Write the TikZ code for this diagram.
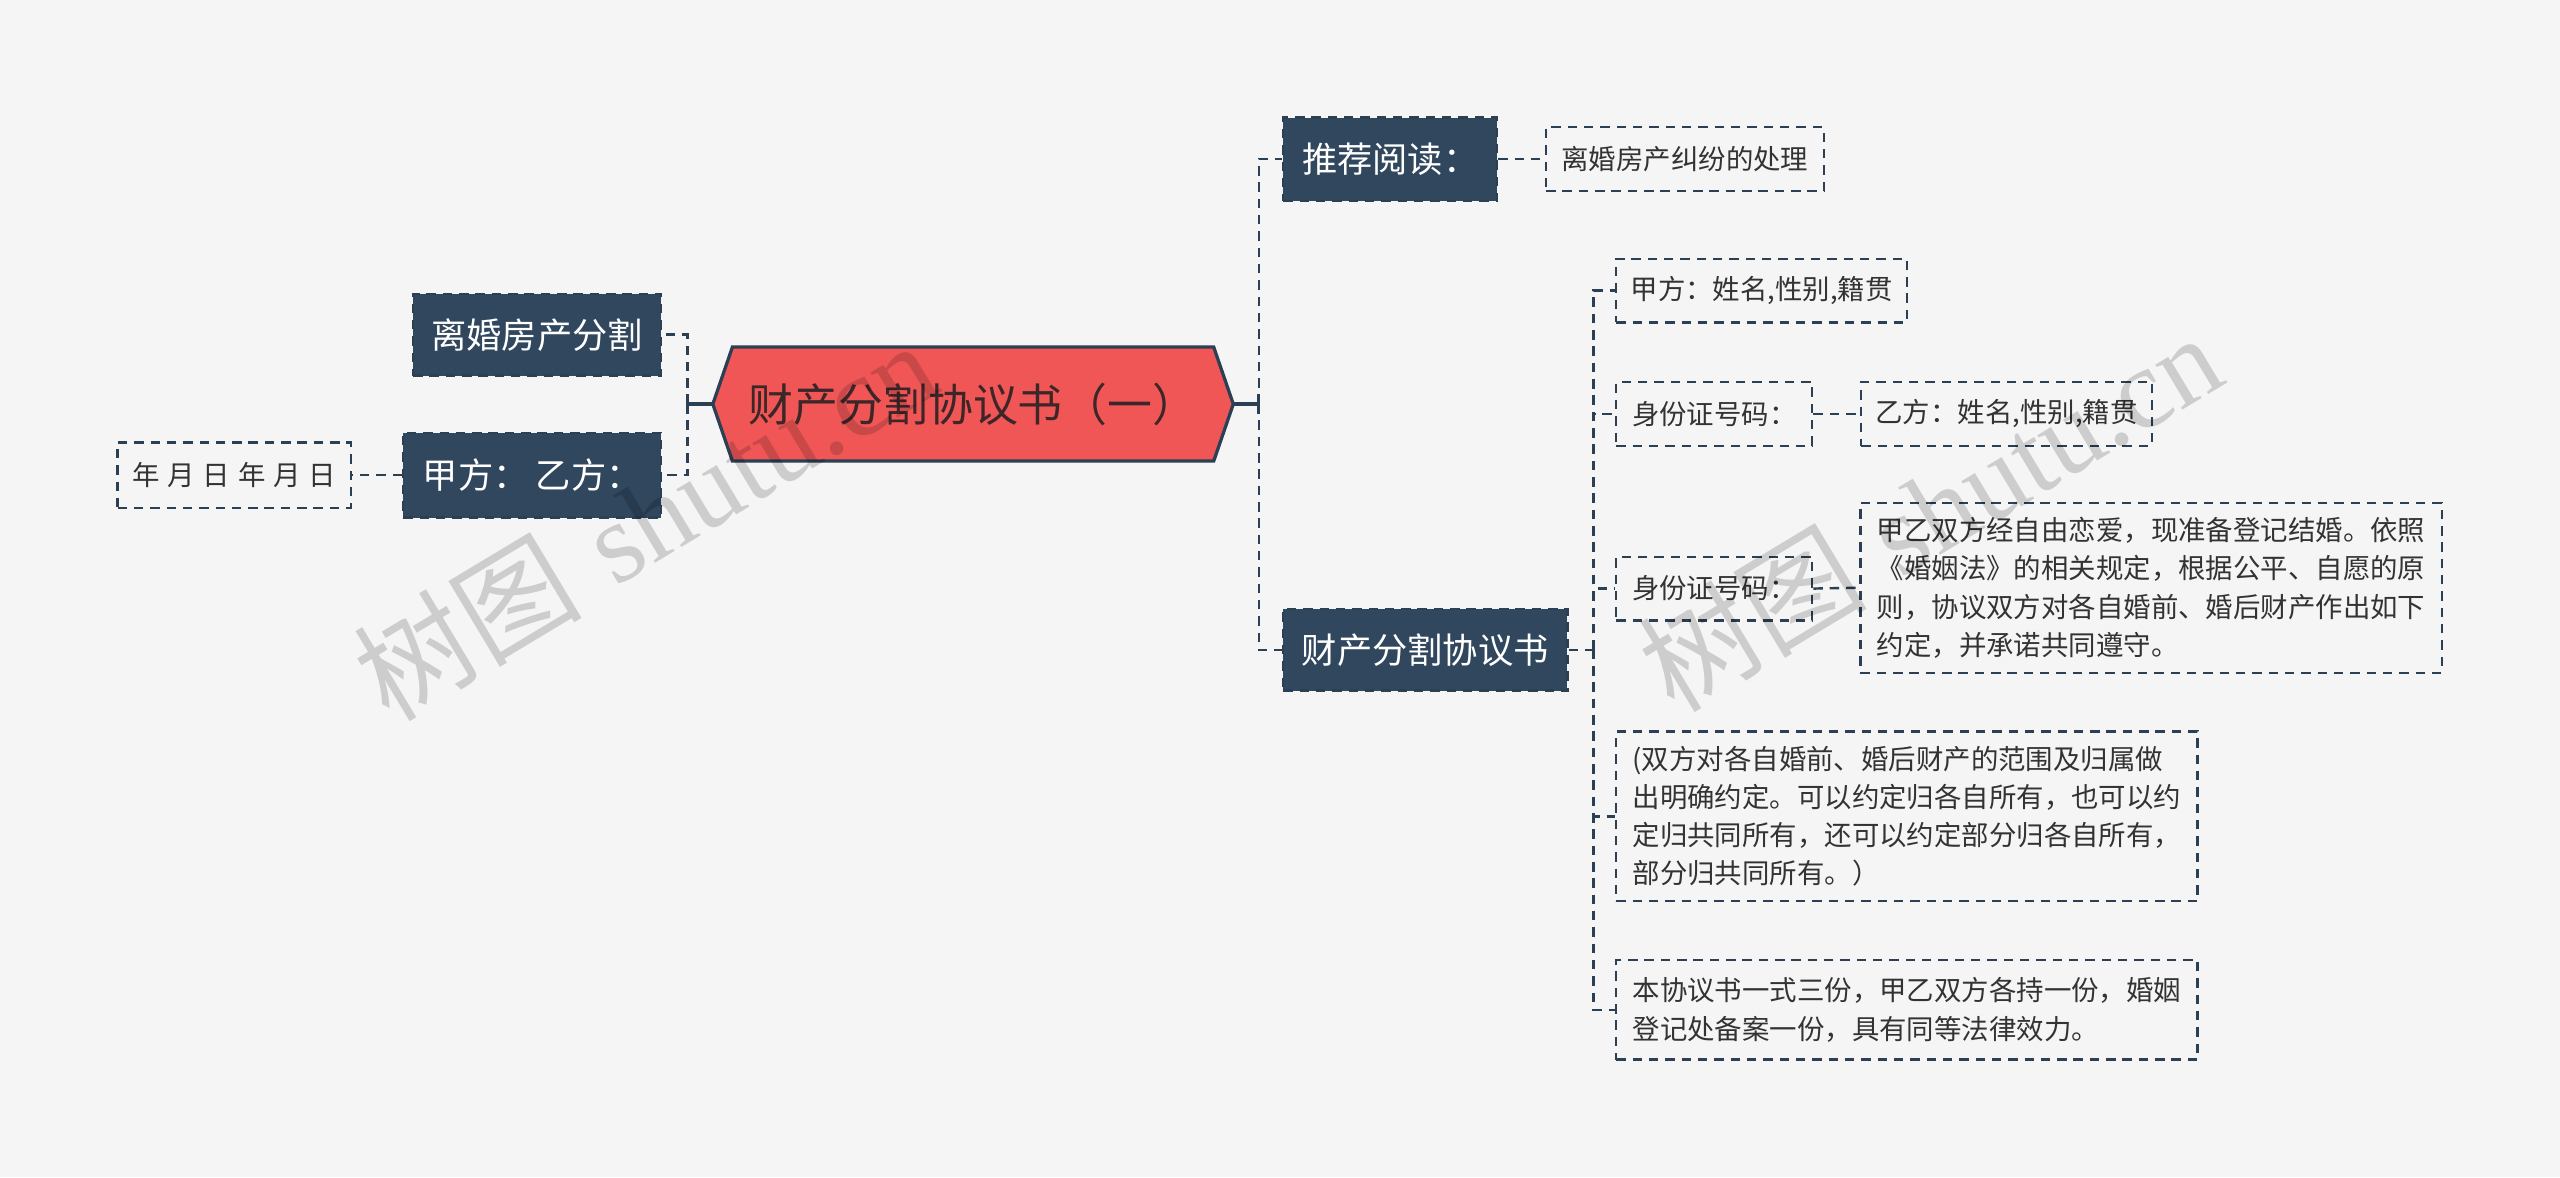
\documentclass[tikz,border=0pt]{standalone}
\usepackage{fontspec}
\setmainfont{Noto Sans CJK SC}
\newfontfamily\wmlatin{Liberation Serif}
\usetikzlibrary{backgrounds,calc}
\definecolor{bgc}{HTML}{F5F5F5}
\definecolor{nodeblue}{HTML}{30475E}
\definecolor{lineblue}{HTML}{2B3F55}
\definecolor{rootred}{HTML}{F05656}
\definecolor{roottext}{HTML}{3D2628}
\definecolor{txt}{HTML}{333333}
\tikzset{
  dashpat/.style={dash pattern=on 2.9pt off 2.1pt},
  darknode/.style={fill=nodeblue, draw=lineblue, dashpat, line width=0.7pt, text=white,
    font=\fontsize{10.8}{13}\selectfont, inner sep=0pt, minimum height=25pt},
  lightnode/.style={draw=lineblue, dashpat, line width=0.7pt, text=txt,
    font=\fontsize{8.4}{10}\selectfont, inner sep=0pt, minimum height=19.5pt},
  longnode/.style={draw=lineblue, dashpat, line width=0.7pt, text=txt, align=left,
    font=\fontsize{8.4}{11.7}\selectfont, inner sep=0pt},
  conn/.style={draw=lineblue, dashpat, line width=0.75pt},
  solidline/.style={draw=lineblue, line width=1pt},
  wm/.style={text=black, opacity=0.16, rotate=31, inner sep=0pt}
}
\begin{document}
\begin{tikzpicture}[x=0.5pt,y=-0.5pt]
\useasboundingbox (0,0) rectangle (1568,721);

% root
\node[minimum width=147pt, minimum height=34.5pt, inner sep=0pt, text=roottext,
  font=\fontsize{13.75}{16}\selectfont] (root) at (596,247.5) {财产分割协议书（一）\hspace{6pt}};
\coordinate (rootL) at ($(root.west)+(-6pt,0)$);
\coordinate (rootR) at ($(root.east)+(6pt,0)$);
\begin{scope}[on background layer]
  \fill[bgc] (0,0) rectangle (1568,721);
  \draw[fill=rootred, draw=lineblue, line width=1pt, line join=miter]
    (root.north west) -- (root.north east) -- (rootR) -- (root.south east)
    -- (root.south west) -- (rootL) -- cycle;
\end{scope}

% left side
\node[darknode, minimum width=76pt] (lhfc) at (329,205) {离婚房产分割};
\node[darknode, minimum width=79pt, minimum height=26pt] (jfyf) at (326,291) {甲方：\hspace{0.2em}乙方：};
\node[lightnode, minimum width=71.5pt, minimum height=20pt] (nyr) at (143.5,291)
  {年\hspace{2.4pt}月\hspace{2.4pt}日\hspace{2.4pt}年\hspace{2.4pt}月\hspace{2.4pt}日};

% right side
\node[darknode, minimum width=65.5pt, minimum height=25.5pt] (tjyd) at (851.5,97.5) {推荐阅读：};
\node[lightnode, minimum width=85pt] (lhjf) at (1032,97.5) {离婚房产纠纷的处理};
\node[darknode, minimum width=87pt] (cfs) at (873,398) {财产分割协议书};

\node[lightnode, minimum width=89pt] (jfxm) at (1079,178) {甲方：姓名,性别,籍贯};
\node[lightnode, minimum width=60pt] (sfz1) at (1050,253.5) {身份证号码：};
\node[lightnode, minimum width=89pt] (yfxm) at (1229,253.5) {乙方：姓名,性别,籍贯};
\node[lightnode, minimum width=60pt] (sfz2) at (1050,360.5) {身份证号码：};
\node[longnode, minimum width=178pt, minimum height=52pt] (xy1) at (1317.5,360)
  {甲乙双方经自由恋爱，现准备登记结婚。依照\\《婚姻法》的相关规定，根据公平、自愿的原\\则，协议双方对各自婚前、婚后财产作出如下\\约定，并承诺共同遵守。};
\node[longnode, minimum width=178pt, minimum height=52pt] (xy2) at (1168,500)
  {(双方对各自婚前、婚后财产的范围及归属做\\出明确约定。可以约定归各自所有，也可以约\\定归共同所有，还可以约定部分归各自所有，\\部分归共同所有。）};
\node[longnode, minimum width=178pt, minimum height=30.5pt] (xy3) at (1168,618.5)
  {本协议书一式三份，甲乙双方各持一份，婚姻\\登记处备案一份，具有同等法律效力。};

% connectors left
\coordinate (ltrunk) at (421,247.5);
\draw[solidline] (rootL) -- (ltrunk);
\draw[solidline] ($(ltrunk)+(0,-3pt)$) -- ($(ltrunk)+(0,3pt)$);
\draw[conn] (ltrunk) |- (lhfc.east);
\draw[conn] (ltrunk) |- (jfyf.east);
\draw[conn] (jfyf.west) -- (nyr.east);

% connectors right
\coordinate (rtrunk) at (771,247.5);
\draw[solidline] (rootR) -- (rtrunk);
\draw[solidline] ($(rtrunk)+(0,-3pt)$) -- ($(rtrunk)+(0,3pt)$);
\draw[conn] (rtrunk) |- (tjyd.west);
\draw[conn] (rtrunk) |- (cfs.west);
\draw[conn] (tjyd.east) -- (lhjf.west);

\coordinate (ctrunk) at (976,398);
\draw[conn] (cfs.east) -- (ctrunk);
\draw[conn] (ctrunk) |- (jfxm.west);
\draw[conn] (ctrunk) |- (sfz1.west);
\draw[conn] (ctrunk) |- (sfz2.west);
\draw[conn] (ctrunk) |- (xy2.west);
\draw[conn] (ctrunk) |- (xy3.west);
\draw[conn] (sfz1.east) -- (yfxm.west);
\draw[conn] (sfz2.east) -- (xy1.west);

% watermarks
\node[wm] (wm1) at (395,318) {\fontsize{35}{37}\selectfont 树图\hspace{0.3em}{\wmlatin shutu.cn}};
\node[wm] (wm2) at (1182,313) {\fontsize{35}{37}\selectfont 树图\hspace{0.3em}{\wmlatin shutu.cn}};
\end{tikzpicture}
\end{document}
